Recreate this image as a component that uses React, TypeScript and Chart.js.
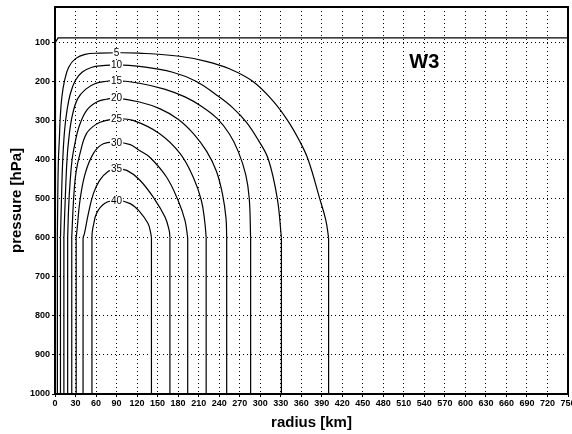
import React, { useEffect, useRef } from "react";
import { Chart, registerables } from "chart.js";

Chart.register(...registerables);

// ---- axis ticks ----
const radiusTicks = [0, 30, 60, 90, 120, 150, 180, 210, 240, 270, 300, 330, 360, 390, 420, 450, 480, 510, 540, 570, 600, 630, 660, 690, 720, 750];
const pressureTicks = [100, 200, 300, 400, 500, 600, 700, 800, 900, 1000];

// ---- contour levels (tangential wind) ----
const contourLevels = [5, 10, 15, 20, 25, 30, 35, 40];

// ---- upper arcs of each contour: radius [km] / pressure [hPa] ----
const arc5R = [3.5, 4, 5, 6.3, 7.7, 10, 14, 20, 30, 44, 65, 90, 123, 182, 221, 255, 289, 318, 340, 357, 370, 387, 396, 400];
const arc5P = [600, 500, 400, 350, 292, 241, 198, 164, 142, 131, 128, 127, 128, 136, 149, 168, 200, 249, 300, 351, 400, 500, 556, 600];

const arc10R = [8, 9.5, 11.3, 14, 17.5, 22.4, 29.7, 39.5, 54, 70, 90, 123.5, 172, 206, 236, 260, 280, 297, 312, 325, 331];
const arc10P = [600, 500, 402, 326, 275, 232, 198, 177, 164, 160, 158, 162, 177, 200, 235, 268, 305, 350, 400, 500, 600];

const arc15R = [13, 15, 17.5, 20, 25, 33, 45, 60, 75, 90, 123.5, 160, 190, 215, 237, 255, 268, 279, 284, 286];
const arc15P = [600, 500, 402, 350, 290, 245, 220, 205, 200, 198, 205, 220, 240, 265, 295, 335, 380, 440, 500, 600];

const arc20R = [18.5, 20, 22, 25, 29, 35, 46, 61, 75, 90, 123.5, 153, 180, 203, 222, 236, 245, 250, 251];
const arc20P = [600, 520, 460, 400, 360, 317, 275, 253, 246, 243, 253, 270, 297, 335, 380, 430, 490, 550, 600];

const arc25R = [24.5, 26, 28, 31, 36.5, 46, 61, 75, 90, 114, 153, 183, 202, 214, 219, 221];
const arc25P = [600, 540, 480, 430, 385, 334, 309, 300, 296, 300, 334, 385, 445, 505, 560, 600];

const arc30R = [31, 32.6, 36.5, 44, 56, 70.6, 90, 110, 123.5, 139, 163, 180, 190, 194];
const arc30P = [600, 573, 505, 437, 385, 360, 356, 362, 377, 395, 445, 505, 556, 600];

const arc35R = [41, 43, 48.7, 56, 65, 78, 90, 105, 123.5, 145, 161, 167, 168];
const arc35P = [600, 590, 539, 488, 454, 430, 424, 428, 452, 500, 548, 582, 600];

const arc40R = [54, 54.5, 56, 61, 73, 90, 110, 124, 136, 140, 141];
const arc40P = [600, 585, 570, 537, 512, 505, 513, 534, 564, 589, 600];

// zero contour (tropopause lid)
const zeroR = [0.5, 0.7, 4.5, 750];
const zeroP = [1000, 100, 89, 89];

const surfaceP = 1000;
const labelRadius = 90;
const panelTitle = "W3";
const panelTitleR = 540;
const panelTitleP = 152;

const arcsR = [arc5R, arc10R, arc15R, arc20R, arc25R, arc30R, arc35R, arc40R];
const arcsP = [arc5P, arc10P, arc15P, arc20P, arc25P, arc30P, arc35P, arc40P];

const FONT = '"Liberation Sans", Arial, Helvetica, sans-serif';
const LINE = "#000";

const toPts = (r: number[], p: number[]) => r.map((v, i) => ({ x: v, y: p[i] }));

function buildDatasets() {
  const ds: any[] = [];
  const base = {
    type: "line",
    borderColor: LINE,
    borderWidth: 1.2,
    pointRadius: 0,
    pointHoverRadius: 0,
    fill: false,
    clip: false,
  };
  contourLevels.forEach((lev, k) => {
    const r = arcsR[k];
    const p = arcsP[k];
    ds.push({ ...base, label: `c${lev}`, data: toPts(r, p), tension: 0.4 });
    const n = r.length - 1;
    ds.push({ ...base, label: `c${lev}L`, data: [{ x: r[0], y: p[0] }, { x: r[0], y: surfaceP }], tension: 0 });
    ds.push({ ...base, label: `c${lev}R`, data: [{ x: r[n], y: p[n] }, { x: r[n], y: surfaceP }], tension: 0 });
  });
  ds.push({ ...base, label: "c0", data: toPts(zeroR, zeroP), tension: 0 });
  return ds;
}

const overlayPlugin = {
  id: "overlay",
  afterDatasetsDraw(chart: any) {
    const { ctx, chartArea, scales } = chart;
    const xs = scales.x;
    const ys = scales.y;
    ctx.save();
    ctx.font = `10px ${FONT}`;
    ctx.textAlign = "center";
    ctx.textBaseline = "middle";
    contourLevels.forEach((lev, k) => {
      const r = arcsR[k];
      const p = arcsP[k];
      const i = r.indexOf(labelRadius);
      if (i < 0) return;
      const px = xs.getPixelForValue(r[i]);
      const py = ys.getPixelForValue(p[i]);
      const txt = String(lev);
      const w = ctx.measureText(txt).width + 2;
      ctx.fillStyle = "#fff";
      ctx.fillRect(px - w / 2, py - 4, w, 8);
      ctx.fillStyle = "#000";
      ctx.fillText(txt, px, py + 0.5);
    });
    ctx.font = `bold 20px ${FONT}`;
    ctx.fillStyle = "#000";
    ctx.fillText(panelTitle, xs.getPixelForValue(panelTitleR), ys.getPixelForValue(panelTitleP));
    ctx.lineWidth = 2;
    ctx.strokeStyle = "#000";
    ctx.strokeRect(
      chartArea.left,
      chartArea.top,
      chartArea.right - chartArea.left,
      chartArea.bottom - chartArea.top
    );
    ctx.restore();
  },
};

export default function App() {
  const ref = useRef<HTMLCanvasElement | null>(null);
  useEffect(() => {
    document.body.style.margin = "0";
    if (!ref.current) return;
    const tickFont = { family: FONT, size: 9, weight: "bold" as const };
    const titleFont = { family: FONT, size: 15, weight: "bold" as const, lineHeight: 1 };
    const grid = {
      color: "#000",
      lineWidth: 1,
      tickLength: 3,
      tickColor: "#000",
      tickBorderDash: [],
      drawTicks: true,
    };
    const chart = new Chart(ref.current, {
      type: "line",
      data: { datasets: buildDatasets() },
      options: {
        responsive: false,
        devicePixelRatio: 1,
        animation: false,
        events: [],
        layout: { padding: { top: 7, right: 4, left: 0, bottom: 0 } },
        plugins: { legend: { display: false }, tooltip: { enabled: false } },
        scales: {
          x: {
            type: "linear",
            min: 0,
            max: 750,
            afterBuildTicks: (s: any) => {
              s.ticks = radiusTicks.map((v) => ({ value: v }));
            },
            afterFit: (s: any) => {
              s.height = 40;
              s.paddingLeft = 0;
              s.paddingRight = 0;
            },
            ticks: {
              autoSkip: false,
              maxRotation: 0,
              minRotation: 0,
              padding: 1,
              color: "#000",
              font: tickFont,
              callback: (v: any) => String(v),
            },
            grid,
            border: { display: false, dash: [1, 3] },
            title: {
              display: true,
              text: "radius [km]",
              color: "#000",
              font: titleFont,
              padding: { top: 0, bottom: 3.5 },
            },
          },
          y: {
            type: "linear",
            reverse: true,
            min: 10,
            max: 1000,
            afterBuildTicks: (s: any) => {
              s.ticks = pressureTicks.map((v) => ({ value: v }));
            },
            afterFit: (s: any) => {
              s.width = 55;
              s.paddingTop = 0;
              s.paddingBottom = 0;
            },
            ticks: {
              autoSkip: false,
              padding: 2,
              color: "#000",
              font: tickFont,
              callback: (v: any) => String(v),
            },
            grid,
            border: { display: false, dash: [1, 3] },
            title: {
              display: true,
              text: "pressure [hPa]",
              color: "#000",
              font: titleFont,
              padding: { top: 9, bottom: 0 },
            },
          },
        },
      } as any,
      plugins: [overlayPlugin],
    });
    return () => chart.destroy();
  }, []);
  return (
    <div style={{ width: 572, height: 434, background: "#fff" }}>
      <canvas ref={ref} width={572} height={434} style={{ display: "block" }} />
    </div>
  );
}
